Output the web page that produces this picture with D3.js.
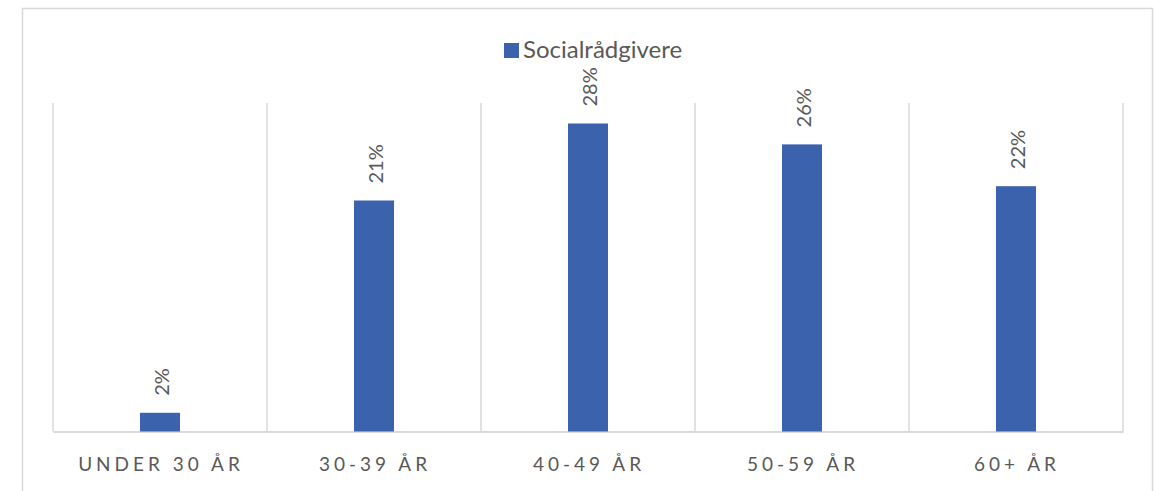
<!DOCTYPE html>
<html><head><meta charset="utf-8">
<script src="https://cdn.jsdelivr.net/npm/d3@7"></script>
<style>html,body{margin:0;padding:0;background:#fff;}svg{display:block;}</style>
</head><body>
<svg id="c" width="1159" height="491"></svg>
<script>
const categories = ["UNDER 30 ÅR", "30-39 ÅR", "40-49 ÅR", "50-59 ÅR", "60+ ÅR"];
const values = [0.017, 0.21, 0.28, 0.261, 0.223];
const valueLabels = ["2%", "21%", "28%", "26%", "22%"];
const seriesName = "Socialrådgivere";

const svg = d3.select("#c");
const font = "Lato, 'Open Sans', sans-serif";
const grey = "#595959", lineC = "#D9D9D9", barC = "#3B63AD";

// chart border
svg.append("rect").attr("x", 22.5).attr("y", 8.5).attr("width", 1130).attr("height", 500)
  .attr("fill", "#fff").attr("stroke", lineC).attr("stroke-width", 1.5);

const x = d3.scaleBand().domain(categories).range([53, 1123]).paddingInner(0).paddingOuter(0);
const y = d3.scaleLinear().domain([0, 0.3]).range([431.5, 101.5]);

// vertical gridlines at category boundaries
const bounds = categories.map(c => x(c)).concat([x(categories[categories.length-1]) + x.bandwidth()]);
svg.append("g").selectAll("line").data(bounds).join("line")
  .attr("x1", d => d).attr("x2", d => d)
  .attr("y1", y(0.3) + 1.5).attr("y2", y(0))
  .attr("stroke", lineC).attr("stroke-width", 1.5);

// baseline axis
const xAxis = d3.axisBottom(x).tickSize(0).tickPadding(0);
const ag = svg.append("g").attr("transform", `translate(0,${y(0)})`).call(xAxis);
ag.select(".domain").attr("stroke", lineC).attr("stroke-width", 2);
ag.selectAll(".tick text")
  .attr("y", 39).attr("dy", 0)
  .attr("font-family", font).attr("font-size", 19).attr("fill", grey)
  .attr("letter-spacing", "4px").attr("dx", "1px")
  .style("text-anchor", "middle");

// bars
const bw = 40;
svg.append("g").selectAll("rect").data(values).join("rect")
  .attr("x", (d, i) => x(categories[i]) + x.bandwidth() / 2 - bw / 2)
  .attr("width", bw)
  .attr("y", d => y(d))
  .attr("height", d => y(0) - y(d))
  .attr("fill", barC);

// value labels (rotated)
svg.append("g").selectAll("text").data(values).join("text")
  .attr("transform", (d, i) => `translate(${x(categories[i]) + x.bandwidth() / 2 + 1},${y(d) - 17}) rotate(-90)`)
  .attr("dominant-baseline", "central")
  .attr("text-anchor", "start")
  .attr("font-family", font).attr("font-size", 20).attr("fill", grey)
  .text((d, i) => valueLabels[i]);

// legend
const lg = svg.append("g");
lg.append("rect").attr("x", 504).attr("y", 43).attr("width", 15).attr("height", 15).attr("fill", barC);
lg.append("text").attr("x", 523).attr("y", 58)
  .attr("font-family", font).attr("font-size", 24).attr("fill", grey)
  .text(seriesName);
</script>
</body></html>
